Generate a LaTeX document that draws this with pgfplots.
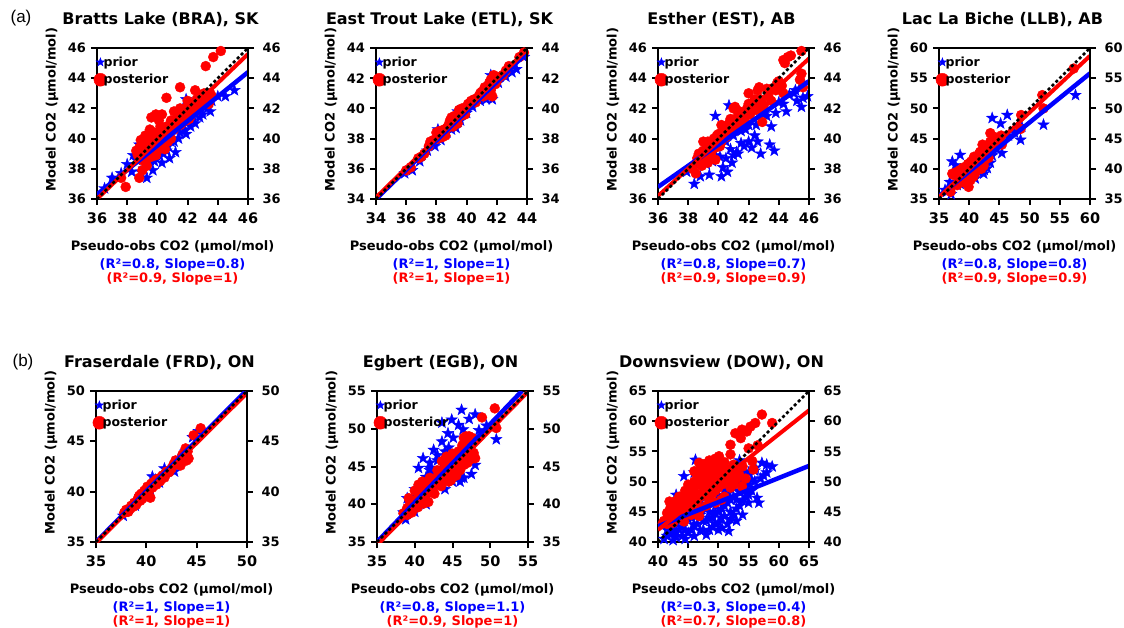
\documentclass[border=0pt]{standalone}
\usepackage{pgfplots}
\pgfplotsset{compat=1.18}
\usepackage{fontspec}
\setmainfont{DejaVu Sans}
\newfontfamily\lib{Liberation Sans}
\pgfdeclareplotmark{fstar}{%
  \pgfpathmoveto{\pgfpointpolar{90}{\pgfplotmarksize}}%
  \pgfpathlineto{\pgfpointpolar{126}{0.4\pgfplotmarksize}}%
  \pgfpathlineto{\pgfpointpolar{162}{\pgfplotmarksize}}%
  \pgfpathlineto{\pgfpointpolar{198}{0.4\pgfplotmarksize}}%
  \pgfpathlineto{\pgfpointpolar{234}{\pgfplotmarksize}}%
  \pgfpathlineto{\pgfpointpolar{270}{0.4\pgfplotmarksize}}%
  \pgfpathlineto{\pgfpointpolar{306}{\pgfplotmarksize}}%
  \pgfpathlineto{\pgfpointpolar{342}{0.4\pgfplotmarksize}}%
  \pgfpathlineto{\pgfpointpolar{18}{\pgfplotmarksize}}%
  \pgfpathlineto{\pgfpointpolar{54}{0.4\pgfplotmarksize}}%
  \pgfpathclose
  \pgfusepathqfillstroke
}
\pgfplotsset{
 common/.style={
  width=151pt, height=151pt, scale only axis, anchor=south west,
  axis line style={line width=2.5pt},
  tick style={line width=2pt, black},
  major tick length=6pt,
  tick align=outside,
  tick label style={font=\fontsize{13}{15}\selectfont\bfseries},
  /pgf/number format/assume math mode=true,
 },
 pan/.style={common,
  clip mode=individual,
  xtick pos=bottom, ytick pos=left,
  xticklabel style={yshift=-4pt, font=\fontsize{14.5}{16}\selectfont\bfseries},
  yticklabel style={xshift=-1.5pt},
  title style={at={(axis description cs:0.4205,1.113)}, anchor=base, font=\fontsize{16}{19}\selectfont\bfseries},
  xlabel style={at={(axis description cs:0.5,-0.338)}, anchor=base, font=\fontsize{13}{15}\selectfont\bfseries},
  ylabel style={at={(axis description cs:-0.298,0.593)}, anchor=center, font=\fontsize{13}{15}\selectfont\bfseries},
  xlabel={Pseudo-obs CO2 (µmol/mol)},
  ylabel={Model CO2 (µmol/mol)},
  legend style={at={(axis description cs:0.0,0.95)}, anchor=north west, draw=none, fill=none,
    inner sep=0pt, font=\fontsize{12.5}{14}\selectfont\bfseries, row sep=4.5pt,
    nodes={inner sep=1pt}},
  legend cell align=left,
  legend image code/.code={\begin{scope}[overlay]\draw[##1] plot coordinates {(3pt,0pt)};\end{scope}\path (0pt,0pt) (5pt,0pt);},
 },
 panR/.style={common, axis x line=none, axis y line*=right, xmin=0, xmax=1, yticklabel style={xshift=5pt}},
 pri/.style={only marks, mark=fstar, mark size=6pt, blue, forget plot},
 pos/.style={only marks, mark=*, mark size=5pt, red, forget plot},
 rb/.style={blue, line width=4.5pt, forget plot},
 rr/.style={red, line width=4pt, forget plot},
 one/.style={black, line width=2.5pt, dash pattern=on 3pt off 2.5pt, forget plot},
}
\newcommand\rsq[2]{%
  \node[font=\fontsize{13}{15}\selectfont\bfseries, text=blue, anchor=base] at (axis description cs:0.5,-0.457) {#1};
  \node[font=\fontsize{13}{15}\selectfont\bfseries, text=red, anchor=base] at (axis description cs:0.5,-0.55) {#2};}
\newcommand\legs{%
  \addlegendimage{only marks, mark=fstar, mark size=4.5pt, blue}
  \addlegendentry{prior}
  \addlegendimage{only marks, mark=*, mark size=6.5pt, red}
  \addlegendentry{posterior}}
\begin{document}
\begin{tikzpicture}
\useasboundingbox (0pt,0pt) rectangle (1124pt,627pt);
\node[font=\lib\fontsize{17}{20}\selectfont] at (21pt,609pt) {(a)};
\node[font=\lib\fontsize{17}{20}\selectfont] at (23pt,265pt) {(b)};

% ---------- BRA
\begin{axis}[pan, at={(97pt,428pt)}, xmin=36,xmax=46,ymin=36,ymax=46, xtick={36,38,...,46}, ytick={36,38,...,46}, title={Bratts Lake (BRA), SK}]
\legs
\addplot[pri] table[row sep=\\]{x y\\ 38.6 38.6\\ 38.8 39.2\\ 39.0 38.8\\ 39.2 39.5\\ 39.4 38.2\\ 39.3 37.4\\ 39.6 39.8\\ 39.8 38.5\\ 40.0 40.0\\ 40.2 39.4\\ 40.3 38.4\\ 40.5 40.3\\ 40.8 38.7\\ 40.9 39.8\\ 41.0 40.6\\ 41.2 39.1\\ 41.3 40.9\\ 41.5 40.4\\ 41.7 41.2\\ 41.9 40.3\\ 42.0 41.4\\ 42.2 40.8\\ 42.5 41.0\\ 42.6 41.8\\ 43.0 41.6\\ 43.5 41.8\\ 43.6 42.5\\ 44.0 42.8\\ 44.5 42.8\\ 45.1 43.2\\ 41.9 42.6\\ 38.8 39.6\\ 38.3 37.8\\ 38.0 38.3\\ 37.0 37.4\\ 36.5 36.7\\ 37.6 37.7\\ 38.4 38.9\\ 39.1 38.0\\ 40.6 39.2\\ 39.5 38.6\\ 40.1 38.9\\ 40.7 39.5\\ 41.1 39.8\\ 41.4 40.0\\ 41.8 40.6\\ 42.3 41.2\\ 42.8 41.4\\ 43.3 42.0\\ 40.4 39.0\\ 39.7 37.9\\ 38.9 37.8\\};
\addplot[pos] table[row sep=\\]{x y\\ 44.2 45.8\\ 43.7 45.4\\ 43.2 44.8\\ 41.5 43.4\\ 40.6 42.7\\ 39.9 41.6\\ 40.3 41.6\\ 39.6 41.4\\ 42.5 43.2\\ 42.6 42.6\\ 42.8 42.9\\ 43.4 42.3\\ 43.5 43.0\\ 37.9 36.8\\ 37.6 37.4\\ 38.8 37.4\\ 39.9 38.9\\ 40.3 39.6\\ 38.7 38.9\\ 38.8 39.4\\ 39.0 39.0\\ 39.1 39.7\\ 39.2 38.5\\ 39.4 39.8\\ 39.5 39.3\\ 39.7 40.0\\ 39.8 39.5\\ 40.0 40.3\\ 40.1 39.9\\ 40.3 40.6\\ 40.5 40.1\\ 40.6 40.8\\ 40.8 40.4\\ 41.0 41.0\\ 41.1 40.6\\ 41.3 41.3\\ 41.5 40.9\\ 41.7 41.6\\ 41.9 41.2\\ 42.0 41.9\\ 42.2 41.5\\ 42.4 42.2\\ 42.0 42.5\\ 39.3 38.2\\ 39.0 37.9\\ 40.5 39.3\\ 41.5 42.0\\ 43.0 42.6\\ 38.6 39.2\\ 38.9 38.6\\ 39.1 39.3\\ 39.3 39.6\\ 39.6 38.8\\ 39.8 40.4\\ 40.0 39.2\\ 40.2 40.8\\ 40.4 40.0\\ 40.6 40.6\\ 40.7 39.8\\ 40.9 41.2\\ 41.2 40.8\\ 41.4 41.6\\ 41.6 41.0\\ 41.8 42.0\\ 42.1 41.3\\ 42.3 42.0\\ 42.5 41.8\\ 42.7 42.5\\ 42.9 42.2\\ 43.1 43.0\\ 43.3 42.7\\ 43.6 42.8\\ 40.9 40.0\\ 41.1 41.8\\ 39.5 40.6\\ 38.9 39.9\\ 39.2 40.2\\ 40.1 41.2\\};
\addplot[rb] coordinates {(36,36.3) (46,44.4)};
\addplot[rr] coordinates {(36,36.0) (46,45.6)};
\addplot[one] coordinates {(36,36) (46,46)};
\rsq{(R²=0.8, Slope=0.8)}{(R²=0.9, Slope=1)}
\end{axis}
\begin{axis}[panR, at={(97pt,428pt)}, ymin=36,ymax=46, ytick={36,38,...,46}]\end{axis}

% ---------- ETL
\begin{axis}[pan, at={(376pt,428pt)}, xmin=34,xmax=44,ymin=34,ymax=44, xtick={34,36,...,44}, ytick={34,36,...,44}, title={East Trout Lake (ETL), SK}]
\legs
\addplot[pri] table[row sep=\\]{x y\\ 35.9 35.7\\ 36.4 35.9\\ 36.9 36.5\\ 37.4 37.2\\ 37.9 37.5\\ 38.3 37.9\\ 38.7 38.4\\ 39.0 38.6\\ 39.3 38.7\\ 39.6 39.2\\ 40.0 39.7\\ 40.4 40.1\\ 40.9 40.5\\ 41.3 40.6\\ 41.7 40.6\\ 42.1 41.7\\ 42.6 42.1\\ 43.0 42.4\\ 43.3 42.6\\ 43.8 43.4\\ 38.1 38.6\\ 39.4 39.8\\ 41.6 42.2\\};
\addplot[pos] table[row sep=\\]{x y\\ 36.0 35.9\\ 36.3 36.1\\ 36.8 36.7\\ 37.0 36.8\\ 37.5 37.5\\ 37.8 37.9\\ 38.0 38.4\\ 38.1 38.0\\ 38.3 38.3\\ 38.5 38.6\\ 38.6 38.2\\ 38.8 38.9\\ 39.0 39.4\\ 39.1 38.8\\ 39.3 39.2\\ 39.5 39.9\\ 39.6 39.5\\ 39.8 39.8\\ 40.0 40.1\\ 40.3 40.5\\ 40.5 40.6\\ 40.8 40.8\\ 41.0 41.1\\ 41.2 41.4\\ 41.3 40.9\\ 41.5 41.7\\ 41.6 41.2\\ 41.8 42.2\\ 41.7 40.8\\ 42.0 41.8\\ 42.4 42.2\\ 42.8 42.8\\ 43.5 43.4\\ 43.8 43.7\\ 37.2 37.0\\ 37.6 37.8\\ 38.2 38.5\\ 38.4 38.1\\ 38.7 38.7\\ 38.9 39.2\\ 39.2 39.5\\ 39.4 39.0\\ 39.7 40.0\\ 39.9 39.6\\ 40.1 40.3\\ 40.6 40.4\\ 40.9 41.0\\ 41.1 40.8\\ 41.4 41.3\\ 41.6 41.9\\ 41.9 41.6\\ 41.5 41.0\\ 42.2 42.1\\ 42.6 42.5\\};
\addplot[rb] coordinates {(34,34.0) (44,43.7)};
\addplot[rr] coordinates {(34,34.1) (44,43.9)};
\addplot[one] coordinates {(34,34) (44,44)};
\rsq{(R²=1, Slope=1)}{(R²=1, Slope=1)}
\end{axis}
\begin{axis}[panR, at={(376pt,428pt)}, ymin=34,ymax=44, ytick={34,36,...,44}]\end{axis}

% ---------- EST
\begin{axis}[pan, at={(658pt,428pt)}, xmin=36,xmax=46,ymin=36,ymax=46, xtick={36,38,...,46}, ytick={36,38,...,46}, title={Esther (EST), AB}]
\legs
\addplot[pri] table[row sep=\\]{x y\\ 39.8 41.5\\ 40.7 42.2\\ 38.4 37.0\\ 39.4 37.6\\ 41.2 39.1\\ 41.7 39.5\\ 42.2 39.4\\ 42.8 39.0\\ 43.4 39.6\\ 43.7 39.2\\ 40.5 38.7\\ 41.0 38.9\\ 40.3 38.1\\ 40.6 37.8\\ 39.8 38.9\\ 39.0 38.7\\ 45.5 42.1\\ 45.6 42.7\\ 45.9 42.8\\ 45.1 43.2\\ 44.7 42.9\\ 43.8 41.7\\ 44.3 42.3\\ 43.2 41.5\\ 42.5 40.9\\ 41.8 40.6\\ 38.1 38.0\\ 37.9 37.8\\ 38.5 38.3\\ 39.0 38.6\\ 39.5 39.0\\ 40.0 39.5\\ 40.5 39.8\\ 41.0 40.2\\ 41.5 40.5\\ 42.0 40.9\\ 43.0 41.6\\ 44.0 42.4\\ 45.0 43.0\\ 45.5 43.7\\ 41.3 39.0\\ 40.9 38.4\\ 39.2 38.3\\ 39.6 38.5\\ 40.1 38.8\\ 40.8 39.3\\ 41.5 39.7\\ 42.0 39.8\\ 42.4 40.2\\ 43.5 40.8\\ 44.5 41.8\\ 45.2 42.5\\ 38.8 37.5\\ 40.2 37.5\\ 42.6 39.8\\};
\addplot[pos] table[row sep=\\]{x y\\ 44.6 45.4\\ 44.8 45.5\\ 45.5 45.8\\ 44.3 45.2\\ 44.4 45.0\\ 43.9 43.7\\ 43.5 43.3\\ 42.7 43.4\\ 42.6 43.2\\ 41.1 42.1\\ 41.3 41.8\\ 42.9 41.1\\ 44.3 43.0\\ 45.4 43.9\\ 45.6 43.4\\ 45.5 44.3\\ 38.3 38.0\\ 38.6 38.7\\ 38.8 38.4\\ 39.0 39.2\\ 39.2 38.8\\ 39.4 39.5\\ 39.5 39.0\\ 39.7 40.0\\ 39.8 39.4\\ 40.0 40.3\\ 40.2 39.8\\ 40.4 40.6\\ 40.5 40.1\\ 40.7 41.0\\ 40.9 40.5\\ 41.1 41.3\\ 41.3 40.9\\ 41.5 41.6\\ 41.7 41.2\\ 41.9 42.0\\ 42.1 41.6\\ 42.3 42.3\\ 42.5 41.9\\ 42.8 42.6\\ 43.0 42.2\\ 43.3 42.8\\ 43.8 43.2\\ 44.2 43.5\\ 39.0 39.8\\ 40.2 40.9\\ 38.5 37.7\\ 39.8 38.6\\ 38.7 39.0\\ 39.1 39.0\\ 39.3 39.8\\ 39.6 39.5\\ 39.9 40.2\\ 40.1 39.5\\ 40.3 40.3\\ 40.6 40.4\\ 40.8 41.3\\ 41.0 40.7\\ 41.2 41.1\\ 41.4 41.8\\ 41.6 41.4\\ 41.8 41.5\\ 42.0 42.3\\ 42.2 41.9\\ 42.4 42.6\\ 42.7 42.0\\ 43.2 43.3\\ 43.5 42.5\\ 44.0 43.8\\ 39.3 38.4\\ 38.9 38.2\\ 42.0 43.0\\ 41.0 42.0\\};
\addplot[rb] coordinates {(36,36.8) (46,43.8)};
\addplot[rr] coordinates {(36,36.2) (46,45.3)};
\addplot[one] coordinates {(36,36) (46,46)};
\rsq{(R²=0.8, Slope=0.7)}{(R²=0.9, Slope=0.9)}
\end{axis}
\begin{axis}[panR, at={(658pt,428pt)}, ymin=36,ymax=46, ytick={36,38,...,46}]\end{axis}

% ---------- LLB
\begin{axis}[pan, at={(939pt,428pt)}, xmin=35,xmax=60,ymin=35,ymax=60, xtick={35,40,...,60}, ytick={35,40,...,60}, title={Lac La Biche (LLB), AB}]
\legs
\addplot[pri] table[row sep=\\]{x y\\ 57.6 52.2\\ 52.3 47.3\\ 48.5 44.8\\ 46.3 48.9\\ 45.2 47.5\\ 43.8 48.4\\ 45.4 42.6\\ 38.5 42.3\\ 37.2 41.2\\ 37.7 40.6\\ 41.0 38.4\\ 42.4 39.2\\ 43.0 40.1\\ 36.3 36.2\\ 38.0 37.3\\ 48.7 47.0\\ 38.0 38.5\\ 39.0 39.0\\ 40.0 39.7\\ 41.0 40.4\\ 42.0 41.2\\ 43.0 42.0\\ 44.0 43.2\\ 45.0 44.0\\ 36.8 37.8\\ 39.5 38.0\\ 41.5 39.5\\ 43.5 41.0\\ 37.0 35.8\\ 39.8 38.5\\ 40.5 39.0\\ 41.8 40.0\\ 42.5 39.8\\ 43.8 42.2\\ 44.5 43.5\\ 45.5 44.5\\ 46.5 45.5\\ 47.5 46.0\\ 38.5 37.5\\ 36.0 36.5\\};
\addplot[pos] table[row sep=\\]{x y\\ 57.3 56.6\\ 52.1 52.2\\ 52.3 50.0\\ 48.5 46.6\\ 48.6 48.9\\ 43.5 45.9\\ 44.1 45.3\\ 43.5 44.5\\ 45.4 44.0\\ 37.2 39.2\\ 37.4 39.0\\ 38.5 38.4\\ 40.2 38.1\\ 40.7 38.7\\ 39.9 37.0\\ 38.0 37.3\\ 36.9 36.2\\ 38.0 39.5\\ 39.0 40.2\\ 39.5 39.6\\ 40.0 40.5\\ 40.5 39.8\\ 41.0 41.5\\ 41.5 40.6\\ 42.0 42.0\\ 42.5 41.3\\ 42.8 43.5\\ 43.0 42.6\\ 43.5 43.0\\ 42.2 44.0\\ 41.8 42.8\\ 40.8 42.0\\ 41.2 40.0\\ 42.4 40.5\\ 43.2 41.8\\ 45.3 45.5\\ 38.5 39.8\\ 39.2 39.3\\ 39.8 40.8\\ 40.3 41.2\\ 40.6 40.4\\ 41.3 41.0\\ 41.6 42.4\\ 42.0 41.5\\ 42.3 43.0\\ 42.7 42.2\\ 43.3 43.8\\ 42.0 40.0\\ 39.0 37.8\\ 40.0 39.0\\ 41.0 39.3\\};
\addplot[rb] coordinates {(35,35.5) (60,55.8)};
\addplot[rr] coordinates {(35,35.3) (60,58.7)};
\addplot[one] coordinates {(35,35) (60,60)};
\rsq{(R²=0.8, Slope=0.8)}{(R²=0.9, Slope=0.9)}
\end{axis}
\begin{axis}[panR, at={(939pt,428pt)}, ymin=35,ymax=60, ytick={35,40,...,60}]\end{axis}

% ---------- FRD
\begin{axis}[pan, at={(96pt,85pt)}, xmin=35,xmax=50,ymin=35,ymax=50, xtick={35,40,...,50}, ytick={35,40,...,50}, title={Fraserdale (FRD), ON}]
\legs
\addplot[pri] table[row sep=\\]{x y\\ 37.7 37.6\\ 38.3 38.3\\ 38.9 38.6\\ 39.4 39.5\\ 39.9 39.9\\ 40.4 40.2\\ 40.9 41.2\\ 41.3 40.9\\ 41.9 41.8\\ 42.6 42.3\\ 43.2 43.3\\ 43.9 44.0\\ 44.6 45.4\\ 45.2 46.0\\ 40.6 41.5\\ 41.8 42.3\\ 42.8 42.0\\};
\addplot[pos] table[row sep=\\]{x y\\ 37.8 37.9\\ 38.2 38.0\\ 38.5 38.6\\ 38.8 38.9\\ 39.0 38.7\\ 39.2 39.4\\ 39.4 39.1\\ 39.5 39.8\\ 39.7 39.6\\ 39.8 40.1\\ 40.0 39.7\\ 40.1 40.5\\ 40.3 40.2\\ 40.5 40.8\\ 40.6 40.4\\ 40.8 41.0\\ 41.0 40.7\\ 41.2 41.3\\ 41.4 41.1\\ 41.6 41.6\\ 41.8 41.4\\ 42.0 42.0\\ 42.2 41.9\\ 42.5 42.3\\ 42.9 43.1\\ 43.4 42.6\\ 43.9 44.3\\ 44.0 43.1\\ 44.2 43.3\\ 44.7 45.6\\ 45.4 46.3\\ 40.4 39.4\\ 38.0 38.2\\ 38.4 38.3\\ 38.7 38.5\\ 39.1 39.1\\ 39.3 39.6\\ 39.6 39.3\\ 39.9 40.0\\ 40.2 39.9\\ 40.4 40.6\\ 40.7 40.6\\ 41.0 41.2\\ 41.3 41.0\\ 41.5 41.4\\ 41.9 41.8\\ 42.3 42.0\\ 42.7 42.7\\ 43.1 42.9\\ 43.6 43.7\\ 44.1 44.0\\};
\addplot[rb] coordinates {(35,35) (50,50.1)};
\addplot[rr] coordinates {(35,34.9) (50,49.8)};
\addplot[one] coordinates {(35,35) (50,50)};
\rsq{(R²=1, Slope=1)}{(R²=1, Slope=1)}
\end{axis}
\begin{axis}[panR, at={(96pt,85pt)}, ymin=35,ymax=50, ytick={35,40,...,50}]\end{axis}

% ---------- EGB
\begin{axis}[pan, at={(377pt,85pt)}, xmin=35,xmax=55,ymin=35,ymax=55, xtick={35,40,...,55}, ytick={35,40,...,55}, title={Egbert (EGB), ON}]
\legs
\addplot[pri] table[row sep=\\]{x y\\ 46.2 52.5\\ 48.0 51.9\\ 44.9 51.2\\ 43.6 50.8\\ 47.2 51.3\\ 45.8 50.5\\ 46.4 49.9\\ 50.8 48.6\\ 48.0 45.2\\ 42.5 47.2\\ 41.1 46.1\\ 40.5 44.8\\ 44.4 49.4\\ 45.1 48.8\\ 43.6 48.3\\ 46.2 43.5\\ 46.0 43.0\\ 38.5 38.9\\ 39.5 40.0\\ 40.5 41.2\\ 41.5 42.3\\ 42.5 43.3\\ 43.5 44.5\\ 44.5 45.5\\ 45.5 46.6\\ 46.5 47.8\\ 47.5 48.7\\ 48.5 49.8\\ 49.5 50.4\\ 42.0 44.5\\ 43.0 45.8\\ 41.5 43.6\\ 40.0 42.0\\ 39.0 40.8\\ 42.0 44.8\\ 44.0 47.0\\ 40.0 41.0\\ 41.0 42.5\\ 42.0 43.0\\ 43.0 44.0\\ 44.0 45.0\\ 45.0 46.0\\ 46.0 47.0\\ 47.0 48.5\\ 44.5 47.5\\ 43.0 46.5\\ 42.0 45.5\\ 46.5 43.5\\ 47.5 44.0\\ 45.0 43.0\\ 44.0 42.0\\ 41.5 40.0\\ 40.0 39.0\\ 38.8 38.0\\};
\addplot[pos] table[row sep=\\]{x y\\ 50.6 52.7\\ 50.8 50.1\\ 48.9 51.5\\ 48.0 46.1\\ 38.5 38.8\\ 39.0 39.5\\ 39.5 39.2\\ 39.8 40.3\\ 40.2 40.0\\ 40.5 41.0\\ 40.8 40.5\\ 41.0 41.5\\ 41.5 41.2\\ 41.8 42.3\\ 42.0 42.0\\ 42.3 42.8\\ 42.5 42.4\\ 42.8 43.4\\ 43.0 43.0\\ 43.3 44.0\\ 43.5 43.5\\ 43.8 44.5\\ 44.0 44.0\\ 44.3 45.0\\ 44.5 44.6\\ 44.8 45.6\\ 45.0 45.2\\ 45.3 46.2\\ 45.5 45.8\\ 45.8 47.0\\ 46.0 46.2\\ 46.3 47.8\\ 46.6 48.3\\ 46.8 49.0\\ 47.0 48.0\\ 47.3 47.2\\ 47.6 48.8\\ 47.8 46.8\\ 44.2 46.3\\ 43.6 45.7\\ 41.0 43.0\\ 40.0 41.8\\ 39.2 40.8\\ 41.8 40.3\\ 42.6 41.4\\ 45.5 43.8\\ 46.0 44.5\\ 44.8 43.2\\ 40.5 42.6\\ 39.0 38.6\\ 39.3 39.8\\ 39.7 39.6\\ 40.0 40.5\\ 40.3 40.3\\ 40.6 41.3\\ 41.0 40.8\\ 41.3 41.8\\ 41.6 41.5\\ 41.9 42.6\\ 42.2 42.2\\ 42.5 43.1\\ 42.8 42.8\\ 43.1 43.6\\ 43.4 43.2\\ 43.7 44.2\\ 44.0 43.7\\ 44.3 44.8\\ 44.6 44.3\\ 44.9 45.3\\ 45.2 44.8\\ 45.5 46.4\\ 45.8 45.5\\ 46.1 46.8\\ 46.4 46.0\\ 46.7 47.4\\ 47.0 46.5\\ 47.2 49.0\\ 47.5 47.8\\ 46.5 48.8\\ 45.0 46.7\\ 44.0 45.5\\ 43.0 44.5\\ 42.0 43.5\\ 41.5 42.8\\ 43.5 42.4\\ 44.5 43.0\\ 47.0 45.5\\ 46.5 45.2\\ 47.5 46.0\\ 39.6 38.9\\ 40.4 39.6\\ 41.2 40.1\\};
\addplot[rb] coordinates {(35,35.0) (54.2,55)};
\addplot[rr] coordinates {(35,34.6) (55,54.9)};
\addplot[one] coordinates {(35,35) (55,55)};
\rsq{(R²=0.8, Slope=1.1)}{(R²=0.9, Slope=1)}
\end{axis}
\begin{axis}[panR, at={(377pt,85pt)}, ymin=35,ymax=55, ytick={35,40,...,55}]\end{axis}

% ---------- DOW
\begin{axis}[pan, at={(658pt,85pt)}, xmin=40,xmax=65,ymin=40,ymax=65, xtick={40,45,...,65}, ytick={40,45,...,65}, title={Downsview (DOW), ON}]
\legs
\addplot[pri] table[row sep=\\]{x y\\ 41.0 40.5\\ 41.5 42.0\\ 42.0 41.3\\ 42.5 43.5\\ 43.0 41.8\\ 43.5 44.2\\ 43.0 47.8\\ 44.0 42.5\\ 44.3 50.9\\ 44.5 45.0\\ 45.0 41.5\\ 45.0 43.8\\ 45.5 46.5\\ 46.0 42.8\\ 46.2 53.6\\ 46.5 44.5\\ 47.0 41.9\\ 47.0 47.0\\ 47.5 43.5\\ 48.0 45.5\\ 48.0 41.2\\ 48.5 44.0\\ 49.0 46.5\\ 49.0 42.5\\ 49.5 44.8\\ 50.0 47.8\\ 50.0 43.2\\ 50.6 42.3\\ 50.5 45.5\\ 51.0 48.5\\ 51.0 44.3\\ 51.7 41.8\\ 51.5 46.5\\ 52.0 49.5\\ 52.0 43.8\\ 52.5 47.5\\ 53.0 50.5\\ 53.0 45.5\\ 53.5 48.5\\ 54.0 51.0\\ 54.0 46.8\\ 54.5 49.5\\ 55.0 51.5\\ 55.0 47.8\\ 55.5 50.3\\ 56.0 51.8\\ 56.1 52.3\\ 56.4 47.3\\ 56.7 46.5\\ 57.2 53.1\\ 58.9 52.5\\ 57.0 50.5\\ 45.5 48.5\\ 44.0 47.0\\ 47.5 50.0\\ 46.0 51.5\\ 42.0 44.5\\ 53.5 53.5\\ 49.0 51.0\\ 58.0 51.5\\ 41.5 41.0\\ 42.0 42.5\\ 42.5 41.5\\ 43.0 43.0\\ 43.5 42.0\\ 44.0 41.0\\ 44.0 44.0\\ 44.5 42.0\\ 45.0 45.0\\ 45.5 42.0\\ 45.5 44.0\\ 46.0 41.0\\ 46.0 45.0\\ 46.5 43.0\\ 47.0 44.5\\ 47.0 46.0\\ 47.5 42.0\\ 48.0 43.5\\ 48.0 47.5\\ 48.5 42.0\\ 48.5 45.0\\ 49.0 44.0\\ 49.5 43.0\\ 49.5 46.0\\ 50.0 45.0\\ 50.0 42.0\\ 50.5 44.0\\ 51.0 46.0\\ 51.5 43.0\\ 51.5 48.0\\ 52.0 45.0\\ 52.0 47.0\\ 52.5 44.5\\ 52.5 49.0\\ 53.0 47.0\\ 53.5 46.0\\ 53.5 50.0\\ 54.0 48.5\\ 54.5 47.5\\ 54.5 51.5\\ 55.0 49.5\\ 55.5 48.5\\ 56.0 50.0\\ 55.0 46.5\\ 53.0 43.5\\ 54.0 44.5\\ 44.5 40.5\\ 42.5 40.3\\ 43.0 40.8\\ 58.0 52.8\\ 57.5 51.0\\};
\addplot[pos] table[row sep=\\]{x y\\ 41.0 43.5\\ 41.5 44.8\\ 42.0 44.0\\ 42.5 45.5\\ 43.0 44.8\\ 43.0 46.8\\ 43.5 46.0\\ 44.0 45.3\\ 44.0 47.5\\ 44.5 46.5\\ 45.0 48.0\\ 45.0 45.8\\ 45.5 49.0\\ 45.5 47.0\\ 46.0 50.0\\ 46.0 48.2\\ 46.5 51.0\\ 46.5 46.8\\ 47.0 52.0\\ 47.0 49.5\\ 47.5 50.5\\ 47.5 48.0\\ 48.0 53.0\\ 48.0 49.0\\ 48.5 51.5\\ 48.5 47.0\\ 49.0 52.5\\ 49.0 50.0\\ 49.5 48.5\\ 50.0 51.0\\ 50.0 53.5\\ 50.5 49.5\\ 51.0 52.0\\ 51.0 47.5\\ 51.5 50.5\\ 52.0 49.0\\ 52.5 51.5\\ 53.0 50.5\\ 54.0 52.5\\ 53.9 49.2\\ 52.0 56.1\\ 52.8 58.0\\ 53.7 57.2\\ 53.9 58.6\\ 54.7 58.3\\ 55.3 59.1\\ 56.1 59.7\\ 57.2 61.1\\ 58.9 59.7\\ 55.6 53.4\\ 55.8 52.0\\ 50.1 54.2\\ 46.8 53.1\\ 46.0 51.7\\ 41.9 46.7\\ 40.8 43.1\\ 44.3 43.4\\ 46.8 44.3\\ 55.0 55.5\\ 56.5 56.0\\ 52.0 54.5\\ 49.5 53.8\\ 41.5 43.0\\ 42.0 45.5\\ 42.5 44.2\\ 43.0 45.5\\ 43.5 44.5\\ 43.5 47.5\\ 44.0 46.2\\ 44.5 45.0\\ 44.5 48.5\\ 45.0 47.0\\ 45.0 49.5\\ 45.5 45.5\\ 45.5 48.0\\ 46.0 47.0\\ 46.0 49.2\\ 46.5 48.0\\ 46.5 50.0\\ 47.0 47.5\\ 47.0 50.8\\ 47.5 49.2\\ 47.5 51.5\\ 48.0 48.0\\ 48.0 50.5\\ 48.5 49.5\\ 48.5 52.5\\ 49.0 48.0\\ 49.0 51.2\\ 49.5 50.2\\ 49.5 52.0\\ 50.0 49.0\\ 50.0 52.2\\ 50.5 51.0\\ 50.5 53.0\\ 51.0 50.0\\ 51.0 53.2\\ 51.5 52.0\\ 52.0 51.0\\ 52.5 52.8\\ 53.0 52.0\\ 53.5 51.0\\ 54.5 50.5\\ 52.5 49.5\\ 50.5 47.0\\ 49.5 46.5\\ 48.0 46.0\\ 47.0 45.5\\ 45.5 44.5\\ 44.0 44.0\\ 42.5 43.2\\ 48.5 53.5\\ 47.5 52.8\\};
\addplot[rb] coordinates {(40,42.6) (65,52.6)};
\addplot[rr] coordinates {(40,42.0) (65,61.8)};
\addplot[one] coordinates {(40,40) (65,65)};
\rsq{(R²=0.3, Slope=0.4)}{(R²=0.7, Slope=0.8)}
\end{axis}
\begin{axis}[panR, at={(658pt,85pt)}, ymin=40,ymax=65, ytick={40,45,...,65}]\end{axis}
\end{tikzpicture}
\end{document}
